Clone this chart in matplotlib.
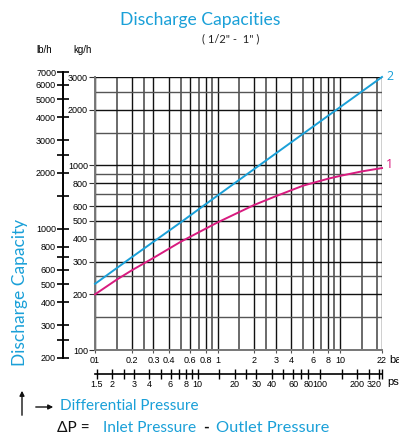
import math
import matplotlib
matplotlib.use('Agg')
import matplotlib.pyplot as plt
from matplotlib.ticker import NullLocator
from matplotlib.patches import FancyArrowPatch

# pressure difference (bar) and discharge capacity (kg/h)
bar_pts = [0.1, 0.2, 0.5, 1, 2, 5, 10, 22]
cap_2 = [228, 318, 490, 685, 955, 1480, 2060, 3000]

bar_pts_1 = [0.1, 0.15, 0.2, 0.3, 0.5, 1, 2, 3, 5, 8, 10, 15, 22]
cap_1 = [200, 240, 270, 315, 385, 490, 610, 680, 775, 845, 875, 925, 965]

bar_grid = [0.1, 0.15, 0.2, 0.25, 0.3, 0.4, 0.5, 0.6, 0.7, 0.8, 0.9, 1,
            1.5, 2, 2.5, 3, 4, 5, 6, 7, 8, 9, 10, 15, 20, 22]
bar_ticks = [0.1, 0.2, 0.3, 0.4, 0.6, 0.8, 1, 2, 3, 4, 6, 8, 10, 22]
bar_labels = ['01', '0.2', '0.3', '0.4', '0.6', '0.8', '1', '2', '3', '4',
              '6', '8', '10', '22']

kg_grid = [100, 150, 200, 250, 300, 400, 500, 600, 700, 800, 900, 1000,
           1500, 2000, 2500, 3000]
kg_ticks = [100, 200, 300, 400, 500, 600, 800, 1000, 2000, 3000]

lb_ticks = [200, 250, 300, 400, 500, 600, 700, 800, 1000, 1500, 2000, 2500,
            3000, 4000, 5000, 6000, 7000]
lb_labels = ['200', '', '300', '400', '500', '600', '', '800', '1000', '',
             '2000', '', '3000', '4000', '5000', '6000', '7000']

psi_ticks = [1.5, 2, 2.5, 3, 4, 5, 6, 7, 8, 9, 10, 15, 20, 25, 30, 40, 50,
             60, 70, 80, 100, 150, 200, 250, 300, 320]
psi_labels = ['1.5', '2', '', '3', '4', '', '6', '', '8', '', '10', '', '20',
              '', '30', '40', '', '60', '', '80', '100', '', '200', '', '',
              '320']

KG_TO_LB = 2.20462
BAR_TO_PSI = 14.5038

BLUE = '#1aa0d8'
PINK = '#d81b7f'
W, H = 399, 436
X0, X1, Y0, Y1 = 95, 382, 350, 77   # plot box in pixels


def fx(px):
    return px / W


def fy(py):
    return 1 - py / H


def bar_px(b):
    return X0 + (X1 - X0) * math.log10(b / 0.1) / math.log10(220)


def kg_py(k):
    return Y0 - (Y0 - Y1) * math.log10(k / 100) / math.log10(30)


fig = plt.figure(figsize=(W / 100, H / 100), dpi=100)
ax = fig.add_axes([fx(X0), fy(Y0), fx(X1) - fx(X0), fy(Y1) - fy(Y0)])
ax.set_xscale('log')
ax.set_yscale('log')
ax.set_xlim(0.1, 22)
ax.set_ylim(100, 3000)

for b in bar_grid:
    c = '#111111' if b in bar_ticks else '#6a6a6a'
    ax.axvline(b, color=c, lw=1.0 if b in bar_ticks else 1.4, zorder=1)
for k in kg_grid:
    c = '#111111' if k in kg_ticks else '#555555'
    ax.axhline(k, color=c, lw=1.0, zorder=1)

ax.plot(bar_pts, cap_2, color=BLUE, lw=1.4, zorder=3, clip_on=False)
ax.plot(bar_pts_1, cap_1, color=PINK, lw=1.4, zorder=3, clip_on=False)

for s in ['top', 'right']:
    ax.spines[s].set_visible(False)
for s in ['left', 'bottom']:
    ax.spines[s].set_color('#777777')
    ax.spines[s].set_linewidth(1.4)

tick_font = dict(family='Liberation Sans', size=6.5)
ax.xaxis.set_minor_locator(NullLocator())
ax.yaxis.set_minor_locator(NullLocator())
ax.set_xticks(bar_ticks)
ax.set_xticklabels(bar_labels, **tick_font)
ax.set_yticks(kg_ticks)
ax.set_yticklabels([str(k) for k in kg_ticks], **tick_font)
ax.tick_params(axis='x', length=2, pad=2, color='#555555')
ax.tick_params(axis='y', length=4, pad=1, color='#333333')

# lb/h scale on the left: a thin axes sharing the kg/h positions
lb_lo, lb_hi = 180, 7600
top_px = kg_py(lb_hi / KG_TO_LB)
bot_px = kg_py(lb_lo / KG_TO_LB)
lb = fig.add_axes([fx(63), fy(bot_px), 0.001, fy(top_px) - fy(bot_px)])
lb.set_yscale('log')
lb.set_ylim(lb_lo, lb_hi)
lb.patch.set_visible(False)
for s in ['top', 'right', 'bottom']:
    lb.spines[s].set_visible(False)
lb.spines['left'].set_bounds(200, 7000)
lb.spines['left'].set_linewidth(1.4)
lb.set_xticks([])
lb.yaxis.set_minor_locator(NullLocator())
lb.set_yticks(lb_ticks)
lb.set_yticklabels(lb_labels, **tick_font)
lb.tick_params(axis='y', direction='inout', length=8, width=1.2, pad=1)

# psi scale below
psi_lo, psi_hi = 1.3, 340
l_px = bar_px(psi_lo / BAR_TO_PSI)
r_px = bar_px(psi_hi / BAR_TO_PSI)
ps = fig.add_axes([fx(l_px), fy(374), fx(r_px) - fx(l_px), 0.001])
ps.set_xscale('log')
ps.set_xlim(psi_lo, psi_hi)
ps.patch.set_visible(False)
for s in ['top', 'right', 'left']:
    ps.spines[s].set_visible(False)
ps.spines['bottom'].set_bounds(0.1 * BAR_TO_PSI, 320)
ps.spines['bottom'].set_linewidth(1.2)
ps.set_yticks([])
ps.xaxis.set_minor_locator(NullLocator())
ps.set_xticks(psi_ticks)
ps.set_xticklabels(psi_labels, **tick_font)
ps.get_xticklabels()[-1].set_horizontalalignment('right')
ps.tick_params(axis='x', direction='inout', length=7, width=1.0, pad=1)

fig.text(fx(389), fy(360), 'bar', ha='left', va='center',
         family='Liberation Sans', size=8)
fig.text(fx(387), fy(382), 'psi', ha='left', va='center',
         family='Liberation Sans', size=8)

fig.text(fx(386), fy(76), '2', color=BLUE, ha='left', va='center',
         family='Open Sans', size=9)
fig.text(fx(386), fy(164), '1', color=PINK, ha='left', va='center',
         family='Open Sans', size=9)

fig.text(fx(36), fy(50), 'lb/h', ha='left', va='center',
         family='Liberation Sans', size=7)
fig.text(fx(73), fy(50), 'kg/h', ha='left', va='center',
         family='Liberation Sans', size=7)

fig.text(fx(200), fy(20), 'Discharge Capacities', color=BLUE, ha='center',
         va='center', family='Lato', size=12.6)
fig.text(fx(231), fy(39), '( 1/2" -  1" )', color='#222222', ha='center',
         va='center', family='Lato', size=8)

fig.text(fx(20), fy(292), 'Discharge Capacity', color=BLUE, ha='center',
         va='center', rotation=90, family='Lato', size=12.5)
fig.text(fx(60), fy(406), 'Differential Pressure', color=BLUE, ha='left',
         va='center', family='Lato', size=11)
fig.text(fx(57), fy(428), '\u0394P = ', color='#111111', ha='left',
         va='center', family='Lato', size=11.2)
fig.text(fx(103), fy(428), 'Inlet Pressure', color=BLUE, ha='left',
         va='center', family='Lato', size=11.2)
fig.text(fx(203), fy(428), '-', color='#111111', ha='left',
         va='center', family='Lato', size=11.2, weight='bold')
fig.text(fx(216), fy(428), 'Outlet Pressure', color=BLUE, ha='left',
         va='center', family='Lato', size=11.8)

fig.add_artist(FancyArrowPatch((fx(22), fy(418)), (fx(22), fy(388)),
                               transform=fig.transFigure, arrowstyle='-|>',
                               mutation_scale=7, color='#111111', lw=1))
fig.add_artist(FancyArrowPatch((fx(33), fy(407)), (fx(56), fy(407)),
                               transform=fig.transFigure, arrowstyle='-|>',
                               mutation_scale=7, color='#111111', lw=1))

fig.savefig('out.png', dpi=100)
